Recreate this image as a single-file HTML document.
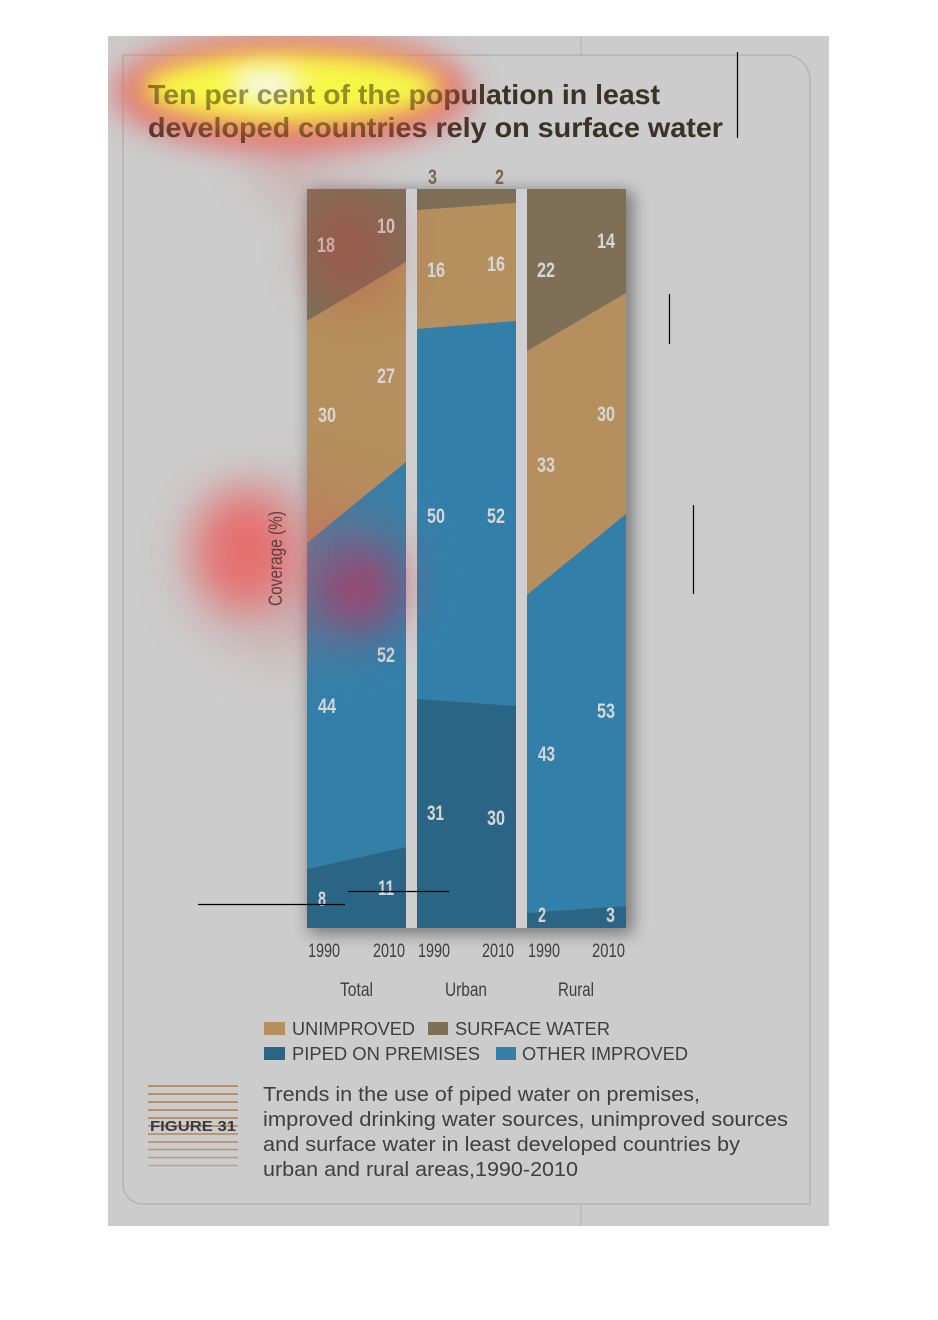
<!DOCTYPE html>
<html><head><meta charset="utf-8"><style>
html,body{margin:0;padding:0;background:#fff;}
svg{display:block;}
</style></head><body>
<svg width="938" height="1320" viewBox="0 0 938 1320" xmlns="http://www.w3.org/2000/svg">
<defs>
<filter id="b8" x="-50%" y="-50%" width="200%" height="200%"><feGaussianBlur stdDeviation="8"/></filter>
<filter id="b12" x="-100%" y="-100%" width="300%" height="300%"><feGaussianBlur stdDeviation="12"/></filter>
<filter id="b16" x="-100%" y="-100%" width="300%" height="300%"><feGaussianBlur stdDeviation="16"/></filter>
<filter id="b22" x="-150%" y="-150%" width="400%" height="400%"><feGaussianBlur stdDeviation="22"/></filter>
<filter id="b30" x="-150%" y="-150%" width="400%" height="400%"><feGaussianBlur stdDeviation="30"/></filter>
<clipPath id="panel"><rect x="108" y="36" width="721" height="1190"/></clipPath>
</defs>

<!-- panel -->
<rect x="108" y="36" width="721" height="1190" fill="#cccccc"/>
<path d="M123,55 H785 A25,25 0 0 1 810,80 V1204 H143 A20,20 0 0 1 123,1184 Z" fill="none" stroke="#b3b3b3" stroke-width="1.5"/>
<line x1="581" y1="36" x2="581" y2="55" stroke="#b5b5b5" stroke-width="1.2"/>
<line x1="581" y1="1204" x2="581" y2="1226" stroke="#b5b5b5" stroke-width="1.2"/>

<!-- title -->
<g font-family="Liberation Sans, sans-serif" font-weight="bold" font-size="28" fill="#3c3c3c">
<text x="148" y="104" textLength="512" lengthAdjust="spacingAndGlyphs">Ten per cent of the population in least</text>
<text x="148" y="137" textLength="575" lengthAdjust="spacingAndGlyphs">developed countries rely on surface water</text>
</g>

<!-- bar shadow -->
<rect x="309" y="191" width="324" height="743" fill="#000" opacity="0.4" filter="url(#b8)"/>
<rect x="406" y="189" width="11" height="739" fill="#cfcfcf"/>
<rect x="516" y="189" width="11" height="739" fill="#cfcfcf"/>

<!-- Total -->
<polygon points="307,189 406,189 406,262 307,321" fill="#7f6f57"/>
<polygon points="307,321 406,262 406,462 307,543" fill="#b58f5e"/>
<polygon points="307,543 406,462 406,847 307,869" fill="#3280aa"/>
<polygon points="307,869 406,847 406,928 307,928" fill="#2b6586"/>
<!-- Urban -->
<polygon points="417,189 516,189 516,203 417,210" fill="#7f6f57"/>
<polygon points="417,210 516,203 516,321 417,329" fill="#b58f5e"/>
<polygon points="417,329 516,321 516,706 417,699" fill="#3280aa"/>
<polygon points="417,699 516,706 516,928 417,928" fill="#2b6586"/>
<!-- Rural -->
<polygon points="527,189 626,189 626,293 527,351" fill="#7f6f57"/>
<polygon points="527,351 626,293 626,514 527,595" fill="#b58f5e"/>
<polygon points="527,595 626,514 626,906 527,913" fill="#3280aa"/>
<polygon points="527,913 626,906 626,928 527,928" fill="#2b6586"/>

<!-- bar labels -->
<g font-family="Liberation Sans, sans-serif" font-weight="bold" font-size="21" fill="#d6d6d6">
<text x="317" y="252" textLength="18" lengthAdjust="spacingAndGlyphs">18</text>
<text x="377" y="233" textLength="18" lengthAdjust="spacingAndGlyphs">10</text>
<text x="377" y="383" textLength="18" lengthAdjust="spacingAndGlyphs">27</text>
<text x="318" y="422" textLength="18" lengthAdjust="spacingAndGlyphs">30</text>
<text x="318" y="713" textLength="18" lengthAdjust="spacingAndGlyphs">44</text>
<text x="377" y="662" textLength="18" lengthAdjust="spacingAndGlyphs">52</text>
<text x="318" y="906" textLength="8" lengthAdjust="spacingAndGlyphs">8</text>
<text x="378" y="895" textLength="16" lengthAdjust="spacingAndGlyphs">11</text>

<text x="427" y="277" textLength="18" lengthAdjust="spacingAndGlyphs">16</text>
<text x="487" y="271" textLength="18" lengthAdjust="spacingAndGlyphs">16</text>
<text x="427" y="523" textLength="18" lengthAdjust="spacingAndGlyphs">50</text>
<text x="487" y="523" textLength="18" lengthAdjust="spacingAndGlyphs">52</text>
<text x="427" y="820" textLength="17" lengthAdjust="spacingAndGlyphs">31</text>
<text x="487" y="825" textLength="18" lengthAdjust="spacingAndGlyphs">30</text>

<text x="537" y="277" textLength="18" lengthAdjust="spacingAndGlyphs">22</text>
<text x="597" y="248" textLength="18" lengthAdjust="spacingAndGlyphs">14</text>
<text x="537" y="472" textLength="18" lengthAdjust="spacingAndGlyphs">33</text>
<text x="597" y="421" textLength="18" lengthAdjust="spacingAndGlyphs">30</text>
<text x="538" y="761" textLength="17" lengthAdjust="spacingAndGlyphs">43</text>
<text x="597" y="718" textLength="18" lengthAdjust="spacingAndGlyphs">53</text>
<text x="538" y="922" textLength="8" lengthAdjust="spacingAndGlyphs">2</text>
<text x="606" y="922" textLength="9" lengthAdjust="spacingAndGlyphs">3</text>
</g>
<g font-family="Liberation Sans, sans-serif" font-weight="bold" font-size="21" fill="#7a6650">
<text x="428" y="184" textLength="9" lengthAdjust="spacingAndGlyphs">3</text>
<text x="495" y="184" textLength="9" lengthAdjust="spacingAndGlyphs">2</text>
</g>

<!-- axis labels -->
<g font-family="Liberation Sans, sans-serif" font-size="19" fill="#3f3f3f">
<text x="308" y="957" textLength="32" lengthAdjust="spacingAndGlyphs">1990</text>
<text x="373" y="957" textLength="32" lengthAdjust="spacingAndGlyphs">2010</text>
<text x="418" y="957" textLength="32" lengthAdjust="spacingAndGlyphs">1990</text>
<text x="482" y="957" textLength="32" lengthAdjust="spacingAndGlyphs">2010</text>
<text x="528" y="957" textLength="32" lengthAdjust="spacingAndGlyphs">1990</text>
<text x="592" y="957" textLength="33" lengthAdjust="spacingAndGlyphs">2010</text>
<text x="340" y="996" textLength="33" lengthAdjust="spacingAndGlyphs">Total</text>
<text x="445" y="996" textLength="42" lengthAdjust="spacingAndGlyphs">Urban</text>
<text x="558" y="996" textLength="36" lengthAdjust="spacingAndGlyphs">Rural</text>
</g>

<!-- legend -->
<rect x="264" y="1022" width="21" height="13" fill="#b58f5e"/>
<rect x="428" y="1022" width="20" height="13" fill="#7f6f57"/>
<rect x="264" y="1047" width="21" height="13" fill="#2b6586"/>
<rect x="496" y="1047" width="20" height="13" fill="#3280aa"/>
<g font-family="Liberation Sans, sans-serif" font-size="18" fill="#3f3f3f">
<text x="292" y="1035" textLength="123" lengthAdjust="spacingAndGlyphs">UNIMPROVED</text>
<text x="455" y="1035" textLength="155" lengthAdjust="spacingAndGlyphs">SURFACE WATER</text>
<text x="292" y="1060" textLength="188" lengthAdjust="spacingAndGlyphs">PIPED ON PREMISES</text>
<text x="522" y="1060" textLength="166" lengthAdjust="spacingAndGlyphs">OTHER IMPROVED</text>
</g>

<!-- figure block -->
<g stroke-width="1.4">
<line x1="148" y1="1086" x2="238" y2="1086" stroke="#b07a45"/>
<line x1="148" y1="1094" x2="238" y2="1094" stroke="#b07a45"/>
<line x1="148" y1="1102" x2="238" y2="1102" stroke="#b07a45"/>
<line x1="148" y1="1110" x2="238" y2="1110" stroke="#b07a45"/>
<line x1="148" y1="1118" x2="238" y2="1118" stroke="#b27d4b"/>
<line x1="148" y1="1126" x2="238" y2="1126" stroke="#b27d4b"/>
<line x1="148" y1="1134" x2="238" y2="1134" stroke="#b4845a"/>
<line x1="148" y1="1142" x2="238" y2="1142" stroke="#b68a62"/>
<line x1="148" y1="1149.5" x2="238" y2="1149.5" stroke="#b8926e"/>
<line x1="148" y1="1157.5" x2="238" y2="1157.5" stroke="#ba9a7c"/>
<line x1="148" y1="1165.5" x2="238" y2="1165.5" stroke="#bca088"/>
</g>
<text x="150" y="1131" font-family="Liberation Sans, sans-serif" font-weight="bold" font-size="15" fill="#3a3a3a" textLength="86" lengthAdjust="spacingAndGlyphs">FIGURE 31</text>

<g font-family="Liberation Sans, sans-serif" font-size="20" fill="#3f3f3f">
<text x="263" y="1101" textLength="437" lengthAdjust="spacingAndGlyphs">Trends in the use of piped water on premises,</text>
<text x="263" y="1126" textLength="525" lengthAdjust="spacingAndGlyphs">improved drinking water sources, unimproved sources</text>
<text x="263" y="1151" textLength="477" lengthAdjust="spacingAndGlyphs">and surface water in least developed countries by</text>
<text x="263" y="1176" textLength="315" lengthAdjust="spacingAndGlyphs">urban and rural areas,1990-2010</text>
</g>

<!-- heatmap overlay -->
<g clip-path="url(#panel)">
  <ellipse cx="350" cy="250" rx="45" ry="55" fill="#c83838" opacity="0.35" filter="url(#b22)"/>
  <ellipse cx="290" cy="175" rx="40" ry="25" fill="#c86868" opacity="0.25" filter="url(#b22)"/>
  <ellipse cx="300" cy="570" rx="110" ry="90" fill="#c86060" opacity="0.22" filter="url(#b30)"/>
  <ellipse cx="358" cy="588" rx="42" ry="42" fill="#b83060" opacity="0.7" filter="url(#b22)"/>
  <ellipse cx="245" cy="550" rx="50" ry="60" fill="#ee5c5c" opacity="0.8" filter="url(#b22)"/>
  <g opacity="0.86">
    <ellipse cx="292" cy="92" rx="178" ry="58" fill="#e85a5a" filter="url(#b16)"/>
    <ellipse cx="292" cy="88" rx="150" ry="36" fill="#ffff30" filter="url(#b12)"/>
    <ellipse cx="266" cy="84" rx="36" ry="15" fill="#ffffff" filter="url(#b12)"/>
  </g>
</g>

<!-- text showing through heatmap -->
<g font-family="Liberation Sans, sans-serif" font-weight="bold" font-size="28" fill="#3c2a10" opacity="0.45">
<text x="148" y="104" textLength="512" lengthAdjust="spacingAndGlyphs">Ten per cent of the population in least</text>
<text x="148" y="137" textLength="575" lengthAdjust="spacingAndGlyphs">developed countries rely on surface water</text>
</g>
<text transform="translate(282,606) rotate(-90)" x="0" y="0" font-family="Liberation Sans, sans-serif" font-size="19" fill="#4a3030" opacity="0.85" textLength="95" lengthAdjust="spacingAndGlyphs">Coverage (%)</text>

<!-- annotation lines -->
<g stroke="#000" stroke-width="1.2">
<line x1="737.5" y1="52" x2="737.5" y2="138"/>
<line x1="669.5" y1="294" x2="669.5" y2="344"/>
<line x1="693.5" y1="505" x2="693.5" y2="594"/>
<line x1="198" y1="904.5" x2="345" y2="904.5"/>
<line x1="348" y1="891.5" x2="449" y2="891.5"/>
</g>
</svg>
</body></html>
